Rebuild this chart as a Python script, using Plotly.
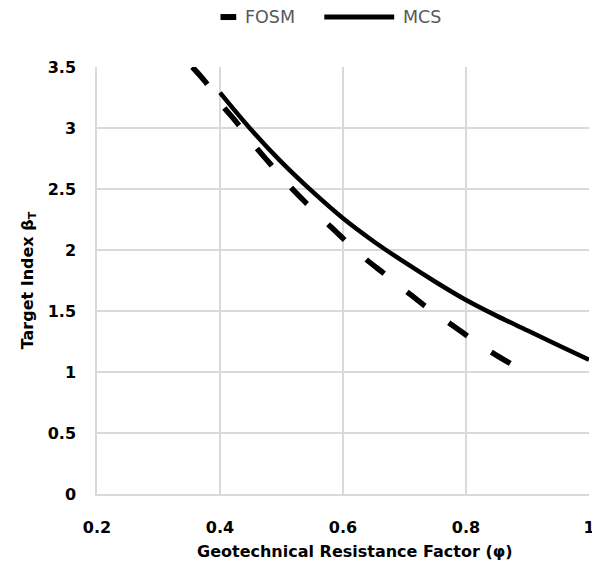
import plotly.graph_objects as go

# FOSM (dashed)
fosm_phi = [0.355, 0.376, 0.403, 0.428, 0.457, 0.481, 0.512, 0.539, 0.574, 0.601,
            0.636, 0.666, 0.701, 0.731, 0.770, 0.801, 0.839, 0.872]
fosm_beta = [3.50, 3.38, 3.19, 3.04, 2.85, 2.71, 2.53, 2.39, 2.22, 2.09,
             1.93, 1.81, 1.67, 1.55, 1.41, 1.30, 1.17, 1.07]

# MCS (solid)
mcs_phi = [0.40, 0.45, 0.50, 0.55, 0.60, 0.65, 0.70, 0.75, 0.80, 0.85, 0.90, 0.95, 1.00]
mcs_beta = [3.29, 2.99, 2.72, 2.48, 2.26, 2.07, 1.90, 1.74, 1.59, 1.46, 1.34, 1.22, 1.10]

series_names = ["FOSM", "MCS"]

x_ticks = [0.2, 0.4, 0.6, 0.8, 1.0]
x_tick_labels = ["0.2", "0.4", "0.6", "0.8", "1"]
y_ticks = [0, 0.5, 1, 1.5, 2, 2.5, 3, 3.5]
y_tick_labels = ["0", "0.5", "1", "1.5", "2", "2.5", "3", "3.5"]

x_title = "<b>Geotechnical Resistance Factor (φ)</b>"
y_title = "<b>Target Index β<sub>T</sub></b>"

FONT = "DejaVu Sans, sans-serif"
GRID = "#d9d9d9"

fig = go.Figure()
fig.add_trace(go.Scatter(
    x=fosm_phi, y=fosm_beta, mode="lines", name=series_names[0], showlegend=False,
    line=dict(color="black", width=5.5, dash="23px,29px", shape="spline"),
))
fig.add_trace(go.Scatter(
    x=mcs_phi, y=mcs_beta, mode="lines", name=series_names[1], showlegend=False,
    line=dict(color="black", width=4.5, shape="spline"),
))

# custom legend (sample lines + labels) above the plot
leg_y = 1.117
fig.add_shape(type="line", xref="paper", yref="paper", x0=0.251, x1=0.283, y0=leg_y, y1=leg_y,
              line=dict(color="black", width=6))
fig.add_shape(type="line", xref="paper", yref="paper", x0=0.462, x1=0.604, y0=leg_y, y1=leg_y,
              line=dict(color="black", width=5))
fig.add_annotation(xref="paper", yref="paper", x=0.297, y=leg_y, xanchor="left", yanchor="middle",
                   text=series_names[0], showarrow=False,
                   font=dict(size=17.5, family=FONT, color="#595959"))
fig.add_annotation(xref="paper", yref="paper", x=0.617, y=leg_y, xanchor="left", yanchor="middle",
                   text=series_names[1], showarrow=False,
                   font=dict(size=17.5, family=FONT, color="#595959"))

# x-axis title (slightly right of plot centre, as in the original)
fig.add_annotation(xref="paper", yref="paper", x=0.525, y=-0.134, xanchor="center", yanchor="middle",
                   text=x_title, showarrow=False,
                   font=dict(size=16, family=FONT, color="black"))

fig.update_layout(
    width=592, height=567,
    margin=dict(l=89, r=11, t=59, b=81, autoexpand=False),
    paper_bgcolor="white", plot_bgcolor="white",
    font=dict(family=FONT, color="black"),
    showlegend=False,
    xaxis=dict(
        range=[0.2, 1.0], tickvals=x_ticks, ticktext=x_tick_labels, automargin=False,
        showgrid=True, gridcolor=GRID, gridwidth=1.5,
        showline=True, linecolor=GRID, linewidth=1.5,
        zeroline=False, ticks="outside", ticklen=18, tickcolor="rgba(0,0,0,0)",
        tickfont=dict(size=16, family=FONT, color="black", weight="bold"),
    ),
    yaxis=dict(
        range=[0, 3.5], tickvals=y_ticks, ticktext=y_tick_labels, automargin=False,
        showgrid=True, gridcolor=GRID, gridwidth=1.5,
        showline=True, linecolor=GRID, linewidth=1.5,
        zeroline=False, ticks="outside", ticklen=16, tickcolor="rgba(0,0,0,0)",
        tickfont=dict(size=16, family=FONT, color="black", weight="bold"),
        title=dict(text=y_title, font=dict(size=16, family=FONT, color="black"), standoff=10),
    ),
)

fig.write_html("out.html")
